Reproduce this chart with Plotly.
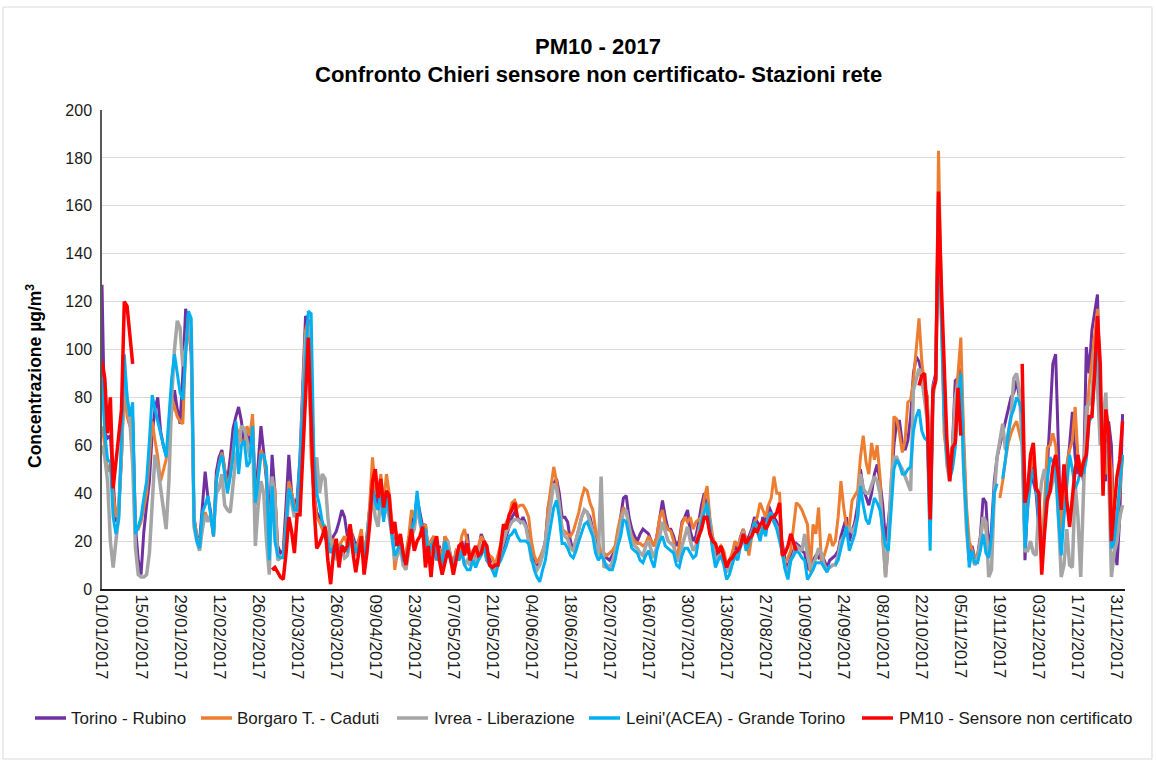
import pandas as pd
import plotly.graph_objects as go

# Daily PM10 concentrations (µg/m³), 01/01/2017 onward, one list per month
N = None
dates = pd.date_range("2017-01-01", periods=367, freq="D")

torino = (
    [127, 65, 63, 64, 45, 28, 33, 55, 90, 75, 68, 70, 26, 12, 6, 24, 35, 45, 65, 75, 80, 66, 60, 56, 65, 75, 83, 75, 69, 90, 117]
    + [110, 98, 30, 22, 20, 35, 49, 38, 32, 22, 49, 55, 58, 50, 45, 55, 67, 72, 76, 70, 60, 67, 60, 70, 38, 52, 68, 57]
    + [45, 25, 56, 40, 18, 15, 16, 35, 56, 40, 35, 38, 55, 85, 114, 112, 60, 40, 32, 30, 28, 22, 18, 20, 22, 24, 28, 33, 30, 22, 25]
    + [22, 18, 20, 23, 14, 22, 33, 45, 40, 35, 40, 30, 40, 36, 25, 18, 20, 22, 15, 14, 20, 28, 30, 38, 32, 26, 27, 16, 20, 22]
    + [14, 18, 12, 22, 18, 14, 10, 16, 14, 20, 15, 23, 12, 15, 13, 16, 23, 20, 15, 13, 8, 8, 12, 15, 18, 22, 27, 30, 32, 30, 28]
    + [30, 27, 22, 15, 11, 9, 12, 15, 20, 34, 40, 44, 46, 40, 30, 30, 28, 20, 16, 20, 25, 30, 33, 32, 30, 25, 20, 16, 15, 13]
    + [13, 12, 14, 16, 22, 30, 38, 39, 30, 25, 22, 20, 23, 25, 24, 23, 20, 18, 22, 30, 37, 30, 25, 25, 22, 18, 20, 28, 30, 33, 24]
    + [20, 22, 28, 35, 40, 32, 25, 18, 14, 15, 17, 14, 8, 10, 14, 18, 16, 22, 25, 20, 22, 25, 30, 28, 24, 30, 27, 35, 32, 30, 28]
    + [24, 19, 12, 8, 14, 16, 19, 18, 16, 15, 8, 10, 12, 14, 13, 15, 12, 9, 12, 13, 14, 16, 22, 26, 30, 20, 24, 28, 35, 50]
    + [42, 38, 35, 40, 48, 52, 45, 35, 20, 28, 40, 60, 70, 70, 61, 58, 62, 72, 90, 97, 95, 90, 85, 80, 28, 85, 90, 160, 120, 80, 60]
    + [50, 60, 87, 88, 92, 60, 30, 12, 18, 13, 14, 22, 38, 36, 15, 25, 45, 55, 60, 65, 70, 75, 80, 82, 87, 80, 75, 12, 38, 55]
    + [45, 40, 25, 15, 30, 50, 73, 94, 98, 54, 20, 35, 50, 60, 74, 55, 48, 52, 45, 101, 90, 108, 115, 123, 80, 55, 45, 70, 60, 20, 10, 30, 73]
)

borgaro = (
    [68, 60, 49, 52, 40, 30, 35, 55, 85, 72, 68, 72, 25, 25, 28, 34, 40, 55, 70, 62, 55, 45, 50, 54, 65, 80, 76, 72, 70, 69, 100]
    + [115, 100, 30, 22, 18, 30, 32, 29, 30, 22, 46, 52, 57, 50, 42, 48, 58, 68, 65, 62, 60, 68, 64, 73, 35, 48, 58, 55]
    + [48, 15, 45, 42, 14, 13, 14, 28, 45, 40, 35, 34, 50, 80, 108, 112, 55, 40, 30, 28, 25, 26, 22, 18, 21, 14, 18, 20, 22, 18, 27]
    + [20, 16, 20, 25, 14, 22, 35, 55, 42, 38, 48, 35, 48, 40, 28, 8, 16, 22, 14, 15, 22, 33, 30, 36, 28, 25, 27, 16, 20, 22]
    + [14, 17, 12, 22, 20, 14, 10, 16, 15, 22, 25, 20, 14, 16, 14, 18, 22, 20, 16, 14, 13, 10, 14, 18, 23, 28, 30, 36, 37, 34, 35]
    + [35, 33, 30, 20, 14, 11, 13, 16, 19, 34, 42, 51, 45, 35, 25, 24, 23, 22, 24, 28, 32, 38, 42, 41, 36, 33, 25, 20, 15, 15]
    + [14, 15, 16, 18, 25, 30, 34, 32, 26, 22, 20, 19, 19, 18, 19, 22, 20, 18, 22, 30, 33, 27, 25, 24, 20, 12, 18, 27, 30, 28, 30]
    + [25, 28, 29, 30, 38, 43, 30, 22, 18, 16, 18, 16, 10, 12, 15, 20, 18, 22, 25, 20, 14, 22, 28, 30, 36, 33, 30, 35, 38, 47, 40]
    + [40, 14, 11, 13, 16, 25, 36, 35, 33, 30, 27, 7, 27, 23, 34, 11, 14, 18, 23, 18, 20, 30, 45, 34, 26, 26, 37, 39, 41, 55]
    + [64, 53, 48, 61, 54, 60, 47, 20, 5, 18, 40, 72, 71, 65, 57, 62, 78, 79, 87, 100, 113, 95, 85, 80, 30, 84, 88, 183, 120, 65, 55]
    + [50, 60, 78, 90, 105, 65, 35, 20, 16, 13, 14, 20, 30, 25, 15, N, N, N, 38, 45, 54, 61, 65, 68, 70, 65, 60, 20, 35, 50]
    + [55, 45, 30, 15, 35, 59, 60, 65, 60, 45, 20, 40, 52, 58, 62, 76, 55, 52, 50, 70, 85, 95, 105, 117, 80, 52, 48, 60, 50, 20, 30, 40, 55]
)

ivrea = (
    [60, 55, 45, 20, 9, 20, 31, 60, 90, 80, 70, 52, 17, 6, 5, 5, 6, 15, 35, 56, 51, 42, 33, 25, 45, 80, 100, 112, 109, 93, 100]
    + [110, 109, 26, 20, 16, 25, 31, 28, 31, 25, 40, 42, 48, 35, 33, 32, 45, 55, 60, 68, 67, 62, 55, 65, 18, 35, 45, 40]
    + [20, 6, 47, 38, 12, 13, 14, 22, 40, 36, 30, 32, 50, 78, 105, 110, 70, 45, 55, 40, 48, 46, 30, 20, 18, 12, 16, 17, 13, 14, 20]
    + [18, 14, 17, 20, 12, 18, 28, 40, 30, 26, 38, 30, 35, 30, 22, 12, 14, 18, 10, 8, 16, 22, 25, 35, 28, 22, 24, 13, 16, 18]
    + [12, 14, 10, 18, 20, 12, 8, 14, 12, 16, 10, 12, 10, 14, 11, 15, 18, 17, 12, 11, 9, 8, 12, 15, 20, 24, 26, 28, 29, 29, 28]
    + [28, 26, 20, 12, 10, 8, 10, 14, 20, 28, 35, 44, 42, 35, 25, 22, 21, 17, 16, 20, 25, 30, 33, 32, 28, 24, 18, 14, 47, 9]
    + [10, 9, 11, 15, 20, 27, 32, 33, 26, 20, 18, 17, 15, 14, 18, 20, 16, 13, 18, 22, 28, 24, 20, 19, 18, 12, 12, 18, 22, 26, 20]
    + [16, 18, 24, 30, 33, 34, 28, 18, 12, 13, 15, 12, 7, 9, 12, 15, 14, 20, 24, 18, 20, 23, 27, 26, 22, 27, 25, 30, 30, 28, 26]
    + [22, 16, 9, 7, 12, 14, 18, 17, 16, 23, 14, 9, 10, 13, 17, 15, 10, 8, 9, 10, 10, 14, 20, 22, 23, 26, 24, 26, 30, 48]
    + [42, 40, 40, 44, 47, 45, 40, 24, 5, 20, 45, 55, 55, 52, 50, 47, 44, 41, 83, 88, 92, 88, 80, 70, 25, 80, 88, 160, 115, 75, 52]
    + [45, 55, 80, 85, 88, 50, 25, 12, 14, 10, 12, 20, 30, 28, 5, 8, 40, 55, 62, 69, 58, 65, 72, 88, 90, 83, 60, 16, 16, 20]
    + [15, 14, 35, 45, 50, 45, 40, 45, 50, 30, 5, 10, 25, 10, 9, 44, 30, 5, 40, 76, 77, 80, 100, 85, 60, 70, 82, 50, 5, 15, 20, 30, 35]
)

leini = (
    [88, 65, 54, 53, 30, 23, 29, 60, 98, 80, 72, 78, 23, 26, 30, 38, 45, 62, 81, 75, 70, 65, 60, 55, 72, 88, 98, 90, 82, 79, 100]
    + [116, 113, 28, 20, 17, 32, 35, 39, 31, 22, 45, 52, 56, 48, 40, 47, 55, 70, 48, 60, 62, 51, 53, 68, 36, 45, 56, 56]
    + [51, 12, 43, 20, 14, 13, 13, 25, 42, 38, 33, 33, 54, 75, 100, 116, 115, 55, 40, 35, 28, 25, 20, 15, 18, 14, 16, 18, 17, 16, 22]
    + [20, 15, 18, 20, 12, 20, 30, 42, 36, 33, 40, 28, 38, 32, 22, 14, 16, 20, 12, 12, 18, 25, 28, 41, 30, 24, 25, 14, 18, 20]
    + [12, 15, 10, 20, 16, 12, 8, 14, 12, 16, 10, 8, 8, 12, 9, 12, 14, 18, 12, 10, 8, 5, 10, 12, 15, 18, 22, 23, 25, 22, 20]
    + [20, 20, 19, 14, 8, 5, 3, 8, 12, 20, 28, 34, 37, 30, 19, 19, 17, 14, 13, 16, 20, 24, 27, 28, 25, 22, 15, 12, 14, 12]
    + [9, 8, 8, 12, 18, 22, 29, 28, 22, 17, 16, 15, 12, 11, 14, 16, 12, 9, 16, 20, 22, 18, 17, 16, 15, 10, 9, 14, 17, 17, 15]
    + [13, 14, 22, 28, 32, 36, 26, 16, 9, 12, 14, 10, 4, 6, 10, 14, 12, 18, 22, 16, 19, 22, 28, 24, 20, 26, 22, 30, 32, 28, 25]
    + [20, 15, 8, 4, 12, 14, 16, 15, 13, 12, 4, 6, 8, 11, 11, 11, 9, 7, 10, N, 10, 12, 17, 22, 26, 16, 20, 23, 30, 43]
    + [35, 29, 27, 32, 38, 36, 33, 25, 18, 16, 32, 50, 54, 52, 48, 48, 50, 51, 66, 72, 75, 66, 63, 62, 16, 83, 88, 165, 114, 73, 55]
    + [46, 50, 59, 80, 90, 51, 30, 9, 16, 11, 11, 16, 23, 15, 13, 22, 40, 44, N, 46, 54, 65, 72, 75, 80, 78, 73, 17, 34, 45]
    + [50, 42, 30, 14, 25, 45, 55, 53, 51, 30, 14, 30, 45, 56, 50, 42, 45, 50, 48, 54, 70, 72, 90, 111, 80, 60, 62, 63, 17, 20, 31, 45, 56]
)

sensore = (
    [95, 88, 65, 80, 42, 52, 63, 75, 120, 118, 106, 94] + [N] * 19
    + [N] * 28
    + [N, N, 8, 9, 7, 5, 4, 15, 30, 24, 15, 31, 31, 55, 85, 105, 70, 35, 17, 19, 22, 26, 12, 2, 15, 21, 9, 18, 16, 18, 27]
    + [15, 7, 14, 22, 6, 15, 27, 45, 50, 38, 46, 34, 41, 39, 23, 28, 18, 23, 15, 10, 18, 25, 16, 20, 22, 26, 9, 18, 5, 18]
    + [22, 12, 6, 11, 16, 13, 6, 12, 18, 19, 14, 19, 12, 15, 18, 14, 15, 20, 18, 10, 9, 10, 10, 18, 27, 25, 31, 33, 36, 30, N]
    + [N] * 30
    + [N] * 31
    + [N, 19, 22, 25, 30, 30, 23, 20, 19, 15, 18, 14, 9, 12, 13, 15, 16, 18, 23, 19, 21, 22, 25, 24, 27, 28, 25, 27, 30, 30, 32]
    + [36, 14, 15, 18, 23, 19, 16] + [N] * 23
    + [N] * 20 + [85, 89, 90, 72, 29, 83, 87, 166, 127, 95, 62]
    + [45, 59, 61, 84, 64] + [N] * 21 + [94, 36, 42, 56]
    + [61, 42, 40, 6, 23, 37, 41, 51, 56, 47, 33, 52, 37, 26, 38, 50, 56, 47, 53, 56, 72, 72, 90, 114, 94, 39, 75, 66, 20, 32, 47, 54, 70]
)

series = [
    ("Torino - Rubino", torino, "#7030A0", 3),
    ("Borgaro T. - Caduti", borgaro, "#ED7D31", 3),
    ("Ivrea - Liberazione", ivrea, "#A5A5A5", 3.5),
    ("Leini'(ACEA) - Grande Torino", leini, "#00B0F0", 3),
    ("PM10 - Sensore non certificato", sensore, "#FF0000", 3.5),
]

FONT = "Liberation Sans, Arial, sans-serif"
W, H = 1156, 760
L, R, T, B = 102, 1125, 110, 589   # plot area in pixels


def px(x):
    return (x - L) / (R - L)


def py(y):
    return (B - y) / (B - T)


fig = go.Figure()
for name, values, color, width in series:
    assert len(values) == len(dates), name
    fig.add_trace(go.Scatter(
        x=dates, y=values, name=name, mode="lines",
        line=dict(color=color, width=width), connectgaps=False,
    ))

# one-row legend below the date labels: swatch start, swatch end, text start
legend_slots = [(35, 66, 69), (201, 232, 235), (397, 428, 432), (589, 620, 624), (862, 893, 897)]
legend_y = 718
shapes = [
    dict(type="rect", xref="paper", yref="paper",
         x0=px(3), x1=px(1152), y0=py(759), y1=py(7),
         line=dict(color="#d9d9d9", width=1), fillcolor="rgba(0,0,0,0)", layer="below"),
]
annotations = [
    dict(text="<b>PM10 - 2017</b>", xref="paper", yref="paper",
         x=px(598), y=py(47), xanchor="center", yanchor="middle",
         showarrow=False, font=dict(size=22, family=FONT, color="#000")),
    dict(text="<b>Confronto Chieri sensore non certificato- Stazioni rete</b>",
         xref="paper", yref="paper", x=px(598), y=py(75),
         xanchor="center", yanchor="middle",
         showarrow=False, font=dict(size=22, family=FONT, color="#000")),
    dict(text="<b>Concentrazione µg/m<sup>3</sup></b>", xref="paper", yref="paper",
         x=px(34), y=py(376), xanchor="center", yanchor="middle",
         textangle=-90, showarrow=False,
         font=dict(size=17.5, family=FONT, color="#000")),
]
for (name, _, color, _w), (s0, s1, tx) in zip(series, legend_slots):
    shapes.append(dict(type="line", xref="paper", yref="paper",
                       x0=px(s0), x1=px(s1), y0=py(legend_y), y1=py(legend_y),
                       line=dict(color=color, width=3.5)))
    annotations.append(dict(text=name, xref="paper", yref="paper",
                            x=px(tx), y=py(legend_y), xanchor="left", yanchor="middle",
                            showarrow=False,
                            font=dict(size=17, family=FONT, color="#1a1a1a")))

fig.update_layout(
    width=W, height=H,
    margin=dict(l=L, r=W - R, t=T, b=H - B, pad=0),
    paper_bgcolor="white", plot_bgcolor="white",
    font=dict(family=FONT, color="#1a1a1a"),
    showlegend=False,
    xaxis=dict(
        type="date",
        range=["2017-01-01", "2018-01-02 21:00"],
        tick0="2017-01-01", dtick=14 * 86400000,
        tickformat="%d/%m/%Y", tickangle=90,
        tickfont=dict(size=17, family=FONT, color="#1a1a1a"),
        showgrid=False, zeroline=False,
        showline=True, linecolor="#1a1a1a", linewidth=2,
        ticks="",
    ),
    yaxis=dict(
        range=[0, 200], dtick=20,
        tickfont=dict(size=16, family=FONT, color="#1a1a1a"),
        showgrid=True, gridcolor="#d9d9d9", gridwidth=1,
        zeroline=False, showline=True, linecolor="#595959", linewidth=1.5,
        ticks="", ticklabelstandoff=5,
    ),
    annotations=annotations,
    shapes=shapes,
)

fig.write_html("out.html")
